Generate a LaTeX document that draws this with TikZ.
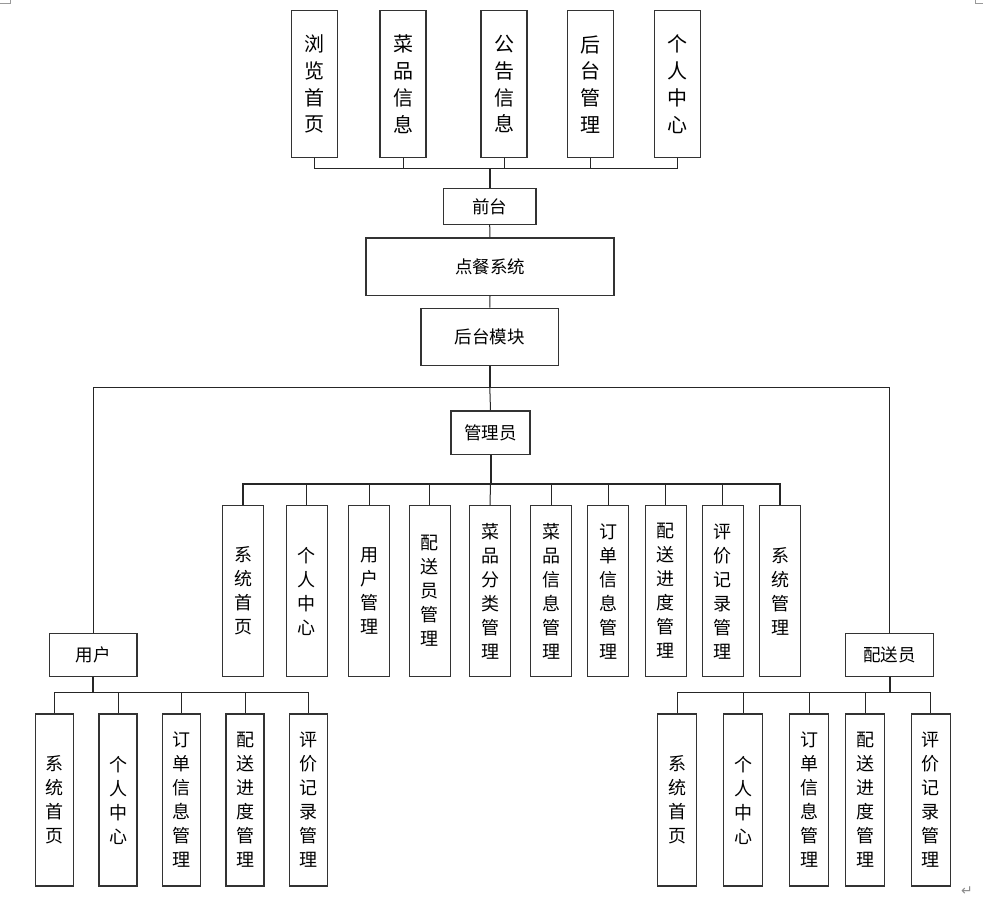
\documentclass[tikz,border=0pt]{standalone}
\usepackage{fontspec}
\usepackage{tikz}
\newfontfamily\cjk{Noto Sans CJK SC}
\newfontfamily\symfont{DejaVu Sans}

\tikzset{
	box/.style={draw=black!80, line width=1.2pt, fill=white, inner sep=0pt},
	hbox/.style={box, font=\cjk\fontsize{17.5}{20}\selectfont},
	topbox/.style={box, align=center, minimum width=46, minimum height=147, font=\cjk\fontsize{20}{26.7}\selectfont},
	midbox/.style={box, align=center, minimum width=41, minimum height=171, font=\cjk\fontsize{18}{24}\selectfont},
	lowbox/.style={box, align=center, minimum width=38, minimum height=172, font=\cjk\fontsize{18}{24}\selectfont},
	link/.style={draw=black!85, line width=1pt},
	stem/.style={draw=black!85, line width=2pt}
}

\begin{document}
\begin{tikzpicture}[x=1pt,y=-1pt]
		\useasboundingbox (0,0) rectangle (983,905);
		%page corner marks
		\draw[black!40, line width=0.6pt] (0,3)--(10,3)--(10,0);
		\draw[black!40, line width=0.6pt] (983,3)--(975,3)--(975,0);
		%front-end row
		\node[topbox] (liulan) at (314.7,84.2) {浏\\览\\首\\页};
		\node[topbox] (caipin) at (403,84.2) {菜\\品\\信\\息};
		\node[topbox] (gonggao) at (504,84.2) {公\\告\\信\\息};
		\node[topbox] (houtaigl) at (590.8,84.2) {后\\台\\管\\理};
		\node[topbox] (gerenzx) at (677.8,84.2) {个\\人\\中\\心};
		%main column
		\node[hbox, minimum width=92.7, minimum height=36] (qiantai) at (489.7,206.3) {前台};
		\node[hbox, minimum width=248, minimum height=57.3] (diancan) at (490,266.7) {点餐系统};
		\node[hbox, minimum width=137.7, minimum height=57.4] (houtai) at (489.8,337) {后台模块};
		\node[hbox, minimum width=79, minimum height=43.3] (guanli) at (490.5,432.7) {管理员};
		\node[hbox, minimum width=87.7, minimum height=43.4] (yonghu) at (93.2,655) {用户};
		\node[hbox, minimum width=87.6, minimum height=43.4] (peisong) at (889.5,655) {配送员};
		%admin row
		\node[midbox] (a1) at (243,591.2) {系\\统\\首\\页};
		\node[midbox] (a2) at (306.7,591.2) {个\\人\\中\\心};
		\node[midbox] (a3) at (369,591.2) {用\\户\\管\\理};
		\node[midbox] (a4) at (429.7,591.2) {配\\送\\员\\管\\理};
		\node[midbox] (a5) at (490,591.2) {菜\\品\\分\\类\\管\\理};
		\node[midbox] (a6) at (551,591.2) {菜\\品\\信\\息\\管\\理};
		\node[midbox] (a7) at (608.3,591.2) {订\\单\\信\\息\\管\\理};
		\node[midbox] (a8) at (665.7,591.2) {配\\送\\进\\度\\管\\理};
		\node[midbox] (a9) at (722.7,591.2) {评\\价\\记\\录\\管\\理};
		\node[midbox] (a10) at (780,591.2) {系\\统\\管\\理};
		%user row
		\node[lowbox] (u1) at (54.3,800) {系\\统\\首\\页};
		\node[lowbox] (u2) at (118,800) {个\\人\\中\\心};
		\node[lowbox] (u3) at (181.7,800) {订\\单\\信\\息\\管\\理};
		\node[lowbox] (u4) at (245,800) {配\\送\\进\\度\\管\\理};
		\node[lowbox] (u5) at (308.3,800) {评\\价\\记\\录\\管\\理};
		%courier row
		\node[lowbox, minimum width=39] (p1) at (677.3,800) {系\\统\\首\\页};
		\node[lowbox, minimum width=39] (p2) at (743,800) {个\\人\\中\\心};
		\node[lowbox, minimum width=39] (p3) at (809,800) {订\\单\\信\\息\\管\\理};
		\node[lowbox, minimum width=39] (p4) at (865.3,800) {配\\送\\进\\度\\管\\理};
		\node[lowbox, minimum width=39] (p5) at (930.7,800) {评\\价\\记\\录\\管\\理};
		%bus points
		\coordinate (topbus) at (489.7,168.3);
		\coordinate (bigbus) at (489.8,387.3);
		\coordinate (adminbus) at (490.5,483.7);
		\coordinate (userbus) at (93.2,692.7);
		\coordinate (courbus) at (889.5,692.7);
		%connectors
		\draw[link] (liulan.south) |- (topbus);
		\draw[link] (caipin.south) |- (topbus);
		\draw[link] (gonggao.south) |- (topbus);
		\draw[link] (houtaigl.south) |- (topbus);
		\draw[link] (gerenzx.south) |- (topbus);
		\draw[stem] (topbus) -- (qiantai.north);
		\draw[link] (qiantai.south) -- (diancan.north);
		\draw[link] (diancan.south) -- (houtai.north);
		\draw[stem] (houtai.south) -- (bigbus);
		\draw[link] (bigbus) -- (guanli.north);
		\draw[link] (bigbus) -| (yonghu.north);
		\draw[link] (bigbus) -| (peisong.north);
		\draw[stem] (guanli.south) -- (adminbus);
		\draw[stem] (adminbus) -| (a1.north);
		\draw[stem] (adminbus) -| (a10.north);
		\draw[link] (adminbus) -| (a2.north);
		\draw[link] (adminbus) -| (a3.north);
		\draw[link] (adminbus) -| (a4.north);
		\draw[link] (adminbus) -- (a5.north);
		\draw[link] (adminbus) -| (a6.north);
		\draw[link] (adminbus) -| (a7.north);
		\draw[link] (adminbus) -| (a8.north);
		\draw[link] (adminbus) -| (a9.north);
		\draw[stem] (yonghu.south) -- (userbus);
		\draw[link] (userbus) -| (u1.north);
		\draw[link] (userbus) -| (u2.north);
		\draw[link] (userbus) -| (u3.north);
		\draw[link] (userbus) -| (u4.north);
		\draw[link] (userbus) -| (u5.north);
		\draw[stem] (peisong.south) -- (courbus);
		\draw[link] (courbus) -| (p1.north);
		\draw[link] (courbus) -| (p2.north);
		\draw[link] (courbus) -| (p3.north);
		\draw[link] (courbus) -| (p4.north);
		\draw[link] (courbus) -| (p5.north);
		%paragraph mark
		\node[text=black!45, font=\symfont\fontsize{14}{14}\selectfont] (parmark) at (967,891) {↵};
		\end{tikzpicture}
\end{document}
